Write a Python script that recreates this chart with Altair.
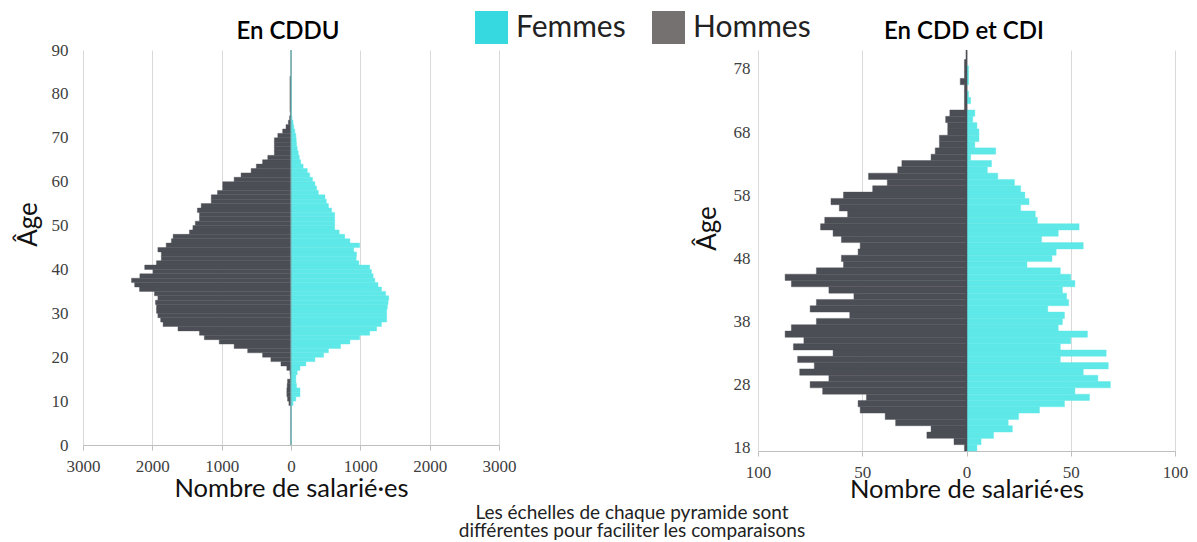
import altair as alt
import pandas as pd

# ---------------- data ----------------
# En CDDU : one bar per year of age, ages 0..89
ages_cddu = list(range(0, 90))
hommes_cddu = [2, 2, 2, 2, 2, 2, 2, 2, 2, 30,
               50, 60, 60, 55, 50, 10, 15, 60, 145, 290,
               410, 625, 820, 1035, 1250, 1320, 1630, 1845, 1880, 1920,
               1940, 1940, 1955, 1920, 1970, 2185, 2255, 2300, 2180, 1990,
               2110, 1940, 1870, 1870, 1920, 1800, 1725, 1700, 1465, 1415,
               1380, 1320, 1320, 1350, 1295, 1150, 1150, 1060, 985, 985,
               820, 720, 575, 500, 410, 335, 240, 240, 240, 240,
               190, 120, 72, 38, 20, 10, 15, 15, 15, 15,
               15, 15, 15, 15, 0, 0, 0, 0, 0, 0]
femmes_cddu = [3, 3, 3, 3, 3, 3, 3, 3, 3, 30,
               70, 130, 130, 80, 70, 70, 90, 130, 215, 345,
               470, 540, 715, 850, 990, 1135, 1235, 1305, 1380, 1380,
               1380, 1390, 1400, 1410, 1365, 1305, 1255, 1210, 1185, 1160,
               1135, 980, 940, 945, 905, 990, 850, 775, 695, 630,
               630, 630, 630, 585, 540, 510, 490, 395, 370, 345,
               310, 270, 235, 175, 140, 120, 105, 90, 80, 75,
               70, 55, 40, 30, 15, 8, 5, 5, 5, 5,
               5, 5, 5, 5, 0, 0, 0, 0, 0, 0]

# En CDD et CDI : ages 18..80
ages_cdd = list(range(18, 81))
hommes_cdd = [1, 6, 19, 17, 34, 39, 51, 52, 48, 69,
              75, 66, 80, 73, 81, 64, 83, 78, 87, 84,
              72, 56, 75, 72, 54, 66, 84, 87, 72, 59,
              60, 52, 51, 60, 64, 70, 68, 57, 61, 65,
              59, 45, 38, 47, 33, 31, 17, 15, 13, 13,
              9, 9, 10, 8, 1, 1, 1, 1, 3, 1,
              1, 1, 0]
femmes_cdd = [5, 7, 13, 22, 20, 25, 35, 47, 59, 52,
              69, 63, 56, 68, 45, 67, 45, 50, 58, 44,
              46, 47, 39, 49, 48, 46, 52, 50, 45, 29,
              41, 43, 56, 36, 44, 54, 34, 33, 26, 30,
              28, 26, 23, 15, 10, 12, 2, 14, 4, 6,
              6, 5, 3, 4, 0, 2, 1, 0, 1, 1,
              1, 0, 0]

sexes = ["Femmes", "Hommes"]
titles = ["En CDDU", "En CDD et CDI"]
note_text = "Les échelles de chaque pyramide sont\ndifférentes pour faciliter les comparaisons"
ticks_cddu_x = [-3000, -2000, -1000, 0, 1000, 2000, 3000]
ticks_cddu_y = list(range(0, 91, 5))
ticks_cdd_x = [-100, -50, 0, 50, 100]
ticks_cdd_y = list(range(18, 79, 5))

COL_F = "#5ee8e8"
COL_H = "#4b4e55"
LEG_F = "#36d9e0"
LEG_H = "#767171"
SANS = "Lato"
SERIF = "Liberation Serif"
LABEL_COL = "#404040"
GRID = "#d9d9d9"


def frame(ages, values, sign, lo_off, hi_off):
    return pd.DataFrame({
        "age": ages,
        "lo": [a + lo_off for a in ages],
        "hi": [a + hi_off for a in ages],
        "val": [sign * v for v in values],
    })


h1 = frame(ages_cddu, hommes_cddu, -1, 0, 1)
f1 = frame(ages_cddu, femmes_cddu, 1, 0, 1)
h2 = frame(ages_cdd, hommes_cdd, -1, -0.5, 0.5)
f2 = frame(ages_cdd, femmes_cdd, 1, -0.5, 0.5)
one = pd.DataFrame({"z": [0]})
legend_df = pd.DataFrame({"sexe": sexes})
note_df = pd.DataFrame({"t": [note_text]})


def x_axis(values, title_y):
    return alt.Axis(values=values, labelExpr="format(abs(datum.value), 'd')",
                    grid=True, gridColor=GRID, gridWidth=1,
                    domainColor="#bfbfbf", tickColor="#bfbfbf", tickSize=5,
                    labelFont=SERIF, labelFontSize=17, labelColor=LABEL_COL,
                    labelPadding=8, labelFlush=False, labelOverlap=False,
                    title="Nombre de salarié·es", titleFont=SANS, titleFontSize=25.5,
                    titleFontWeight="normal", titleColor="#111",
                    titleBaseline="alphabetic", titleY=title_y)


def y_axis(values, pad, tx, ty):
    return alt.Axis(values=values, grid=False, domain=False, ticks=False,
                    labelFont=SERIF, labelFontSize=17, labelColor=LABEL_COL,
                    labelPadding=pad, labelFlush=False, labelOverlap=False,
                    title="Âge", titleFont=SANS, titleFontSize=26,
                    titleFontWeight="normal", titleColor="#111",
                    titleAngle=270, titleBaseline="middle", titleAlign="center",
                    titleX=tx, titleY=ty)


def title_mark(text, x):
    return alt.Chart(pd.DataFrame({"t": [text]})).mark_text(
        font=SANS, fontSize=24, fontWeight=600, color="#000",
        align="center", baseline="alphabetic"
    ).encode(x=alt.value(x), y=alt.value(-11), text="t:N")


# ---------------- left pyramid (CDDU) ----------------
xs1 = alt.Scale(domain=[-3000, 3000], nice=False, zero=False)
ys1 = alt.Scale(domain=[0, 90], nice=False, zero=False)

bars_h1 = alt.Chart(h1).mark_bar(color=COL_H, stroke=COL_H, strokeWidth=0.4).encode(
    x=alt.X("val:Q", scale=xs1, axis=x_axis(ticks_cddu_x, 51)),
    x2=alt.X2(datum=0),
    y=alt.Y("lo:Q", scale=ys1, axis=y_axis(ticks_cddu_y, 15, -55, 174)),
    y2="hi:Q",
)
bars_f1 = alt.Chart(f1).mark_bar(color=COL_F, stroke=COL_F, strokeWidth=0.4).encode(
    x="val:Q", x2=alt.X2(datum=0), y="lo:Q", y2="hi:Q"
)
axis_line1 = alt.Chart(one).mark_rule(color="#7fa9ab", strokeWidth=1).encode(x=alt.X("z:Q"))
legend_layer = alt.Chart(legend_df).mark_square(opacity=0).encode(
    color=alt.Color("sexe:N",
                    scale=alt.Scale(domain=sexes, range=[LEG_F, LEG_H]),
                    legend=alt.Legend(orient="none", legendX=392, legendY=-39,
                                      direction="horizontal", title=None,
                                      symbolType="square", symbolSize=1089,
                                      symbolStrokeWidth=0, symbolOpacity=1,
                                      labelFont=SANS, labelFontSize=30,
                                      labelColor="#222", labelOffset=8,
                                      columnPadding=26, padding=0))
)
note = alt.Chart(note_df).mark_text(
    font=SANS, fontSize=19, color="#222", align="center", baseline="alphabetic",
    lineBreak="\n", lineHeight=18
).encode(x=alt.value(549), y=alt.value(469), text="t:N")

left = alt.layer(bars_h1, bars_f1, axis_line1, legend_layer, note,
                 title_mark(titles[0], 205)).properties(width=416, height=395)

# ---------------- right pyramid (CDD et CDI) ----------------
xs2 = alt.Scale(domain=[-100, 100], nice=False, zero=False)
ys2 = alt.Scale(domain=[17.5, 81], nice=False, zero=False)

bars_h2 = alt.Chart(h2).mark_bar(color=COL_H, stroke=COL_H, strokeWidth=0.4).encode(
    x=alt.X("val:Q", scale=xs2, axis=x_axis(ticks_cdd_x, 46)),
    x2=alt.X2(datum=0),
    y=alt.Y("lo:Q", scale=ys2, axis=y_axis(ticks_cdd_y, 8, -51, 178)),
    y2="hi:Q",
)
bars_f2 = alt.Chart(f2).mark_bar(color=COL_F, stroke=COL_F, strokeWidth=0.4).encode(
    x="val:Q", x2=alt.X2(datum=0), y="lo:Q", y2="hi:Q"
)
axis_line2 = alt.Chart(one).mark_rule(color=COL_H, strokeWidth=1.5).encode(x=alt.X("z:Q"))

right = alt.layer(bars_h2, bars_f2, axis_line2,
                  title_mark(titles[1], 206)).properties(width=417, height=401)

chart = alt.hconcat(left, right, spacing=259, bounds="flush").properties(
    padding={"left": 7, "top": 3, "right": 0, "bottom": 2}
).configure_view(strokeWidth=0)

chart.save("out.html", embed_options={"renderer": "svg", "actions": False})
